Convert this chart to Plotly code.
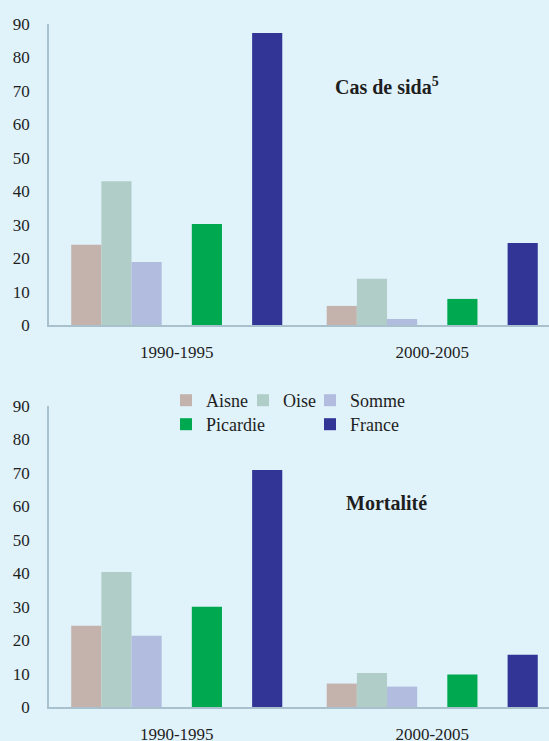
import plotly.graph_objects as go
from plotly.subplots import make_subplots

periods = ["1990-1995", "2000-2005"]
series = ["Aisne", "Oise", "Somme", "Picardie", "France"]
sida = {
    "Aisne": [24, 5.7],
    "Oise": [43, 13.8],
    "Somme": [18.8, 1.8],
    "Picardie": [30.2, 7.8],
    "France": [87.3, 24.5],
}
mortalite = {
    "Aisne": [24.3, 7.0],
    "Oise": [40.4, 10.2],
    "Somme": [21.3, 6.1],
    "Picardie": [30.0, 9.7],
    "France": [70.9, 15.6],
}
y_ticks = [0, 10, 20, 30, 40, 50, 60, 70, 80, 90]

colors = {
    "Aisne": "#c4b3ad",
    "Oise": "#b1cdc7",
    "Somme": "#b2bcdf",
    "Picardie": "#00a94f",
    "France": "#323596",
}
legend_of = {"Aisne": "legend", "Oise": "legend2", "Somme": "legend3",
             "Picardie": "legend4", "France": "legend5"}
# slot order within a group (None = empty slot)
slots = ["Aisne", "Oise", "Somme", None, "Picardie", None, "France"]

bg = "#e0f2fa"
axcol = "#a9c1cc"
font_family = "Liberation Serif, Times New Roman, serif"
text_col = "#1e1e1e"

fig = make_subplots(rows=2, cols=1)

for row, data in [(1, sida), (2, mortalite)]:
    for k, name in enumerate(slots):
        if name is None:
            fig.add_trace(go.Bar(x=periods, y=[None, None], showlegend=False,
                                 hoverinfo="skip", name=f"blank{k}"), row=row, col=1)
        else:
            fig.add_trace(go.Bar(x=periods, y=data[name], name=name,
                                 marker=dict(color=colors[name], line=dict(width=0)),
                                 showlegend=(row == 2), legend=legend_of[name]),
                          row=row, col=1)

H = 741
W0 = 49
PW = 500

def fy(px):
    return 1 - px / H

def fx(px):
    return (px - W0) / PW

axis_common = dict(showgrid=False, zeroline=False, showline=True, linecolor=axcol,
                   linewidth=1.5, ticks="", automargin=False,
                   tickfont=dict(family=font_family, size=17, color=text_col))

fig.update_layout(
    width=549, height=741,
    margin=dict(l=W0, r=0, t=0, b=0),
    paper_bgcolor=bg, plot_bgcolor=bg,
    barmode="group", bargap=0.174, bargroupgap=0,
    font=dict(family=font_family, color=text_col),
    xaxis=dict(domain=[0, 1], range=[-0.5, 1.457], ticklabelstandoff=11, **axis_common),
    xaxis2=dict(domain=[0, 1], range=[-0.5, 1.457], ticklabelstandoff=11, **axis_common),
    yaxis=dict(domain=[fy(325), fy(24)], range=[0, 90], tickvals=y_ticks,
               ticklabelstandoff=14, **axis_common),
    yaxis2=dict(domain=[fy(707), fy(406)], range=[0, 90], tickvals=y_ticks,
                ticklabelstandoff=14, **axis_common),
)

leg_common = dict(orientation="v", yanchor="top", xanchor="left", bgcolor="rgba(0,0,0,0)",
                  borderwidth=0, itemwidth=30, tracegroupgap=0,
                  font=dict(family=font_family, size=18, color=text_col))
row1, row2 = 382, 406
fig.update_layout(
    legend=dict(x=fx(166), y=fy(row1), **leg_common),
    legend2=dict(x=fx(243), y=fy(row1), **leg_common),
    legend3=dict(x=fx(310), y=fy(row1), **leg_common),
    legend4=dict(x=fx(166), y=fy(row2), **leg_common),
    legend5=dict(x=fx(310), y=fy(row2), **leg_common),
)

fig.add_annotation(text="<b>Cas de sida<sup>5</sup></b>", xref="paper", yref="paper",
                   x=fx(387), y=fy(86), xanchor="center", yanchor="middle", showarrow=False,
                   font=dict(family=font_family, size=20, color=text_col))
fig.add_annotation(text="<b>Mortalité</b>", xref="paper", yref="paper",
                   x=fx(386), y=fy(503), xanchor="center", yanchor="middle", showarrow=False,
                   font=dict(family=font_family, size=20, color=text_col))

fig.write_html("out.html", config={"displayModeBar": False},
               post_script="document.body.style.margin='0';")
